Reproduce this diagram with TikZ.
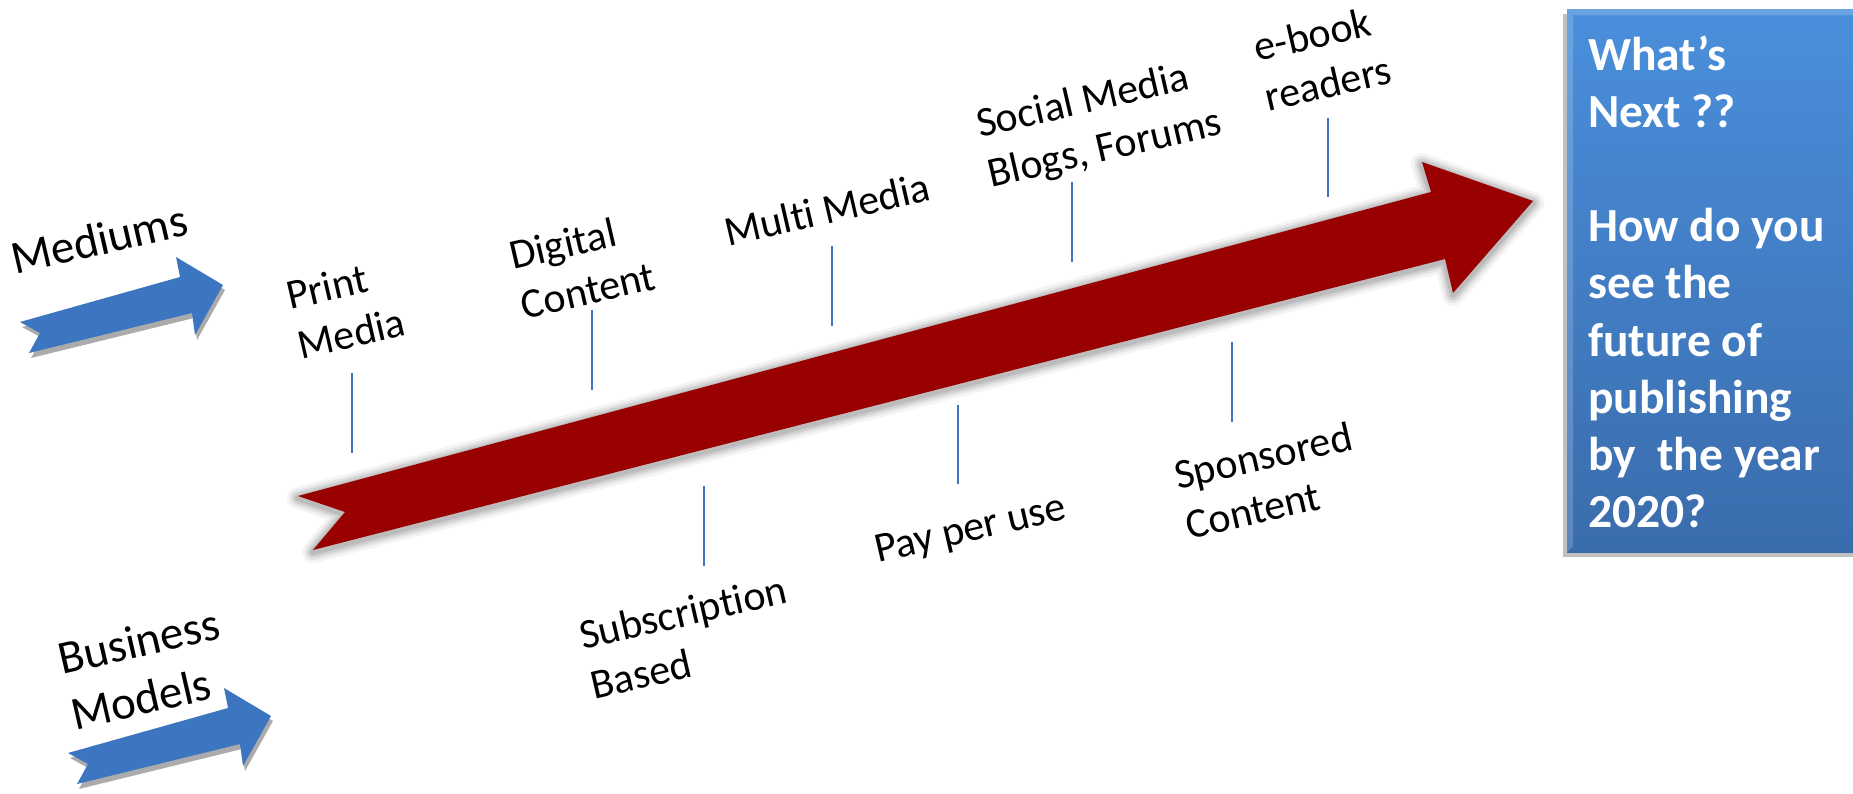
\documentclass[tikz,border=0pt]{standalone}
\usepackage{fontspec}
\setmainfont{Carlito}[Ligatures={NoCommon,NoContextual}]
\definecolor{tickblue}{RGB}{68,114,196}
\definecolor{arrowred}{RGB}{153,0,0}
\definecolor{glowgray}{RGB}{165,165,165}
\definecolor{arrowblue}{RGB}{60,117,192}
\definecolor{shadowgray}{RGB}{150,150,150}
\definecolor{boxtop}{RGB}{74,143,220}
\definecolor{boxbot}{RGB}{58,108,172}
\begin{document}
\begin{tikzpicture}[x=1pt,y=-1pt,
  lbl/.style={anchor=base west, rotate=13, inner sep=0pt, font=\fontsize{42}{51}\selectfont},
  biglbl/.style={anchor=base west, rotate=13, inner sep=0pt, font=\fontsize{47}{57}\selectfont},
  tick/.style={draw=tickblue, line width=2.4pt},
  bluearrow/.style={fill=arrowblue},
  blueshadow/.style={fill=shadowgray, opacity=0.8}]
\useasboundingbox (0,0) rectangle (1853,793);
\fill[white] (0,0) rectangle (1853,793);

% ---------- red arrow ----------
\coordinate (r1) at (298,496);
\coordinate (r2) at (345,512);
\coordinate (r3) at (313,550);
\coordinate (r4) at (1445,259);
\coordinate (r5) at (1453,293);
\coordinate (r6) at (1533,201);
\coordinate (r7) at (1422,162);
\coordinate (r8) at (1431,192);
\foreach \w/\o in {22/0.12, 16/0.2, 11/0.3, 6/0.45}
  \draw[glowgray, line width=\w pt, opacity=\o, line join=round]
    ([yshift=-2pt]r1) -- ([yshift=-2pt]r2) -- ([yshift=-2pt]r3) -- ([yshift=-2pt]r4) -- ([yshift=-2pt]r5) -- ([yshift=-2pt]r6) -- ([yshift=-2pt]r7) -- ([yshift=-2pt]r8) -- cycle;
\fill[arrowred] (r1) -- (r2) -- (r3) -- (r4) -- (r5) -- (r6) -- (r7) -- (r8) -- cycle;

% ---------- blue arrows ----------
\foreach \sx/\sy/\nm in {0/0/med, 48/431/bus}{
  \begin{scope}[shift={(\sx,\sy)}]
    \coordinate (\nm1) at (20,322);
    \coordinate (\nm2) at (40,333);
    \coordinate (\nm3) at (29,353);
    \coordinate (\nm4) at (192,313);
    \coordinate (\nm5) at (195,335);
    \coordinate (\nm6) at (223,285);
    \coordinate (\nm7) at (176,257);
    \coordinate (\nm8) at (180,277);
    \fill[blueshadow] ([shift={(2,5)}]\nm1) -- ([shift={(2,5)}]\nm2) -- ([shift={(2,5)}]\nm3) -- ([shift={(2,5)}]\nm4) -- ([shift={(2,5)}]\nm5) -- ([shift={(2,5)}]\nm6) -- ([shift={(2,5)}]\nm7) -- ([shift={(2,5)}]\nm8) -- cycle;
    \fill[bluearrow] (\nm1) -- (\nm2) -- (\nm3) -- (\nm4) -- (\nm5) -- (\nm6) -- (\nm7) -- (\nm8) -- cycle;
  \end{scope}
}

% ---------- left titles ----------
\node[biglbl] (mediums) at (15,275) {Mediums};
\node[biglbl] (business) at (62,675) {\vtop{\hbox{Business}\hbox{Models}}};

% ---------- labels above ----------
\node[lbl] (print) at (290,310) {\vtop{\hbox{Print}\hbox{Media}}};
\node[lbl] (digital) at (513,270) {\vtop{\hbox{Digital}\hbox{Content}}};
\node[lbl] (multi) at (728,247) {Multi Media};
\node[lbl] (social) at (980,138) {\vtop{\hbox{Social Media}\hbox{Blogs, Forums}}};
\node[lbl] (ebook) at (1257,62) {\vtop{\hbox{e-book}\hbox{readers}}};

% ---------- labels below ----------
\node[lbl] (subs) at (583,650) {\vtop{\hbox{Subscription}\hbox{Based}}};
\node[lbl] (pay) at (878,563) {Pay per use};
\node[lbl] (spons) at (1178,490) {\vtop{\hbox{Sponsored}\hbox{Content}}};

% ---------- tick lines ----------
\coordinate (t1a) at (352,373); \coordinate (t1b) at (352,453);
\coordinate (t2a) at (592,310); \coordinate (t2b) at (592,390);
\coordinate (t3a) at (832,246); \coordinate (t3b) at (832,326);
\coordinate (t4a) at (1072,182); \coordinate (t4b) at (1072,262);
\coordinate (t5a) at (1328,118); \coordinate (t5b) at (1328,197);
\coordinate (t6a) at (704,486); \coordinate (t6b) at (704,566);
\coordinate (t7a) at (958,405); \coordinate (t7b) at (958,484);
\coordinate (t8a) at (1232,342); \coordinate (t8b) at (1232,422);
\foreach \i in {1,...,8} \draw[tick] (t\i a) -- (t\i b);

% ---------- question box ----------
\fill[shadowgray, opacity=0.6] (1563,14) rectangle (1853,557);
\shade[top color=boxtop, bottom color=boxbot] (1567,9) rectangle (1853,552);
\fill[white, opacity=0.18] (1567,9) -- (1853,9) -- (1853,15) -- (1573,15) -- (1573,546) -- (1567,552) -- cycle;
\node[anchor=base west, inner sep=0pt, text=white,
      font=\fontsize{47.5}{57.2}\selectfont\bfseries] (next) at (1588,70)
  {\vtop{\hbox{What’s}\hbox{Next ??}\hbox{}\hbox{How do you}\hbox{see the}\hbox{future of}\hbox{publishing}\hbox{by\ \ the year}\hbox{2020?}}};
\end{tikzpicture}
\end{document}
